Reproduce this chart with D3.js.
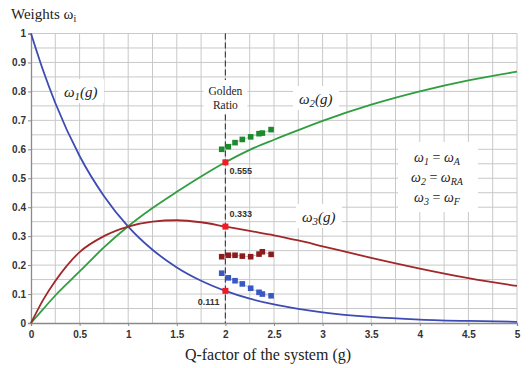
<!DOCTYPE html>
<html><head><meta charset="utf-8">
<script src="https://cdn.jsdelivr.net/npm/d3@7"></script>
<style>body{margin:0;background:#fff}svg{display:block}</style>
</head><body><svg id="c" width="529" height="368"></svg>
<script>
// ---- data ----
const gValues  = [0, 0.125, 0.25, 0.5, 0.75, 1, 1.25, 1.5, 1.75, 2, 2.25, 2.5, 2.75, 3, 3.5, 4, 4.5, 5];
const w1Values = [1, 0.872, 0.760, 0.577, 0.439, 0.333, 0.253, 0.192, 0.146, 0.111, 0.084, 0.064, 0.049, 0.037, 0.021, 0.012, 0.007, 0.004];
const w2Values = [0, 0.048, 0.095, 0.178, 0.261, 0.334, 0.397, 0.453, 0.506, 0.555, 0.598, 0.633, 0.666, 0.698, 0.754, 0.800, 0.838, 0.868];
const w3Values = [0, 0.080, 0.145, 0.245, 0.300, 0.333, 0.350, 0.355, 0.348, 0.333, 0.318, 0.303, 0.285, 0.265, 0.225, 0.188, 0.155, 0.128];
const sampleG  = [1.962, 2.03, 2.099, 2.174, 2.26, 2.346, 2.38, 2.47];
const sampleW2 = [0.600, 0.609, 0.623, 0.634, 0.643, 0.654, 0.656, 0.668];
const sampleW3 = [0.229, 0.234, 0.234, 0.231, 0.229, 0.238, 0.246, 0.237];
const sampleW1 = [0.172, 0.156, 0.146, 0.135, 0.120, 0.106, 0.100, 0.094];
const goldenG = 2;
const goldenValues = [0.555, 0.333, 0.111];
const goldenLabels = ["0.555", "0.333", "0.111"];
const xTicks = [0, 0.5, 1, 1.5, 2, 2.5, 3, 3.5, 4, 4.5, 5];
const yTicks = [0, 0.1, 0.2, 0.3, 0.4, 0.5, 0.6, 0.7, 0.8, 0.9, 1];

const svg = d3.select("#c");
const x = d3.scaleLinear().domain([0, 5]).range([31, 517]);
const y = d3.scaleLinear().domain([0, 1]).range([323, 33.5]);

const grid = svg.append("g");
// grid lines
grid.selectAll(".vx").data(d3.range(0.25, 5.01, 0.25)).join("line")
  .attr("x1", d => x(d)).attr("x2", d => x(d)).attr("y1", y(0)).attr("y2", y(1))
  .attr("stroke", "#c8c8c8").attr("stroke-width", 1);
grid.selectAll(".hy").data(d3.range(0.05, 1.001, 0.05)).join("line")
  .attr("x1", x(0)).attr("x2", x(5)).attr("y1", d => y(d)).attr("y2", d => y(d))
  .attr("stroke", "#c8c8c8").attr("stroke-width", 1);

// axes
const xAxis = d3.axisBottom(x).tickValues(xTicks).tickFormat(d3.format("")).tickSize(3);
const yAxis = d3.axisLeft(y).tickValues(yTicks).tickFormat(d3.format("")).tickSize(3);
const gx = svg.append("g").attr("transform", `translate(0,${y(0)})`).call(xAxis);
const gy = svg.append("g").attr("transform", `translate(${x(0)},0)`).call(yAxis);
[gx, gy].forEach(g => {
  g.select(".domain").attr("stroke", "#8a8a8a").attr("stroke-width", 1.3);
  g.selectAll(".tick line").attr("stroke", "#8a8a8a");
  g.selectAll("text").attr("font-family", "Liberation Sans, Arial, sans-serif")
    .attr("font-size", 10).attr("font-weight", "bold").attr("fill", "#333");
});
gx.selectAll("text").attr("dy", "0.9em");
gy.selectAll("text").attr("dx", "0.1em");

// label boxes (white, interrupting grid)
function whiteBox(x0, y0, w, h) {
  svg.append("rect").attr("x", x0).attr("y", y0).attr("width", w).attr("height", h).attr("fill", "#fff");
}
whiteBox(58, 79, 46, 24);
whiteBox(293, 86, 46, 24);
whiteBox(296, 204, 46, 24);
whiteBox(398, 142, 80, 70);

// golden ratio dashed line
svg.append("line").attr("x1", x(goldenG)).attr("x2", x(goldenG)).attr("y1", y(1)).attr("y2", y(0))
  .attr("stroke", "#444").attr("stroke-width", 1.2).attr("stroke-dasharray", "6,3");
whiteBox(x(goldenG) - 22, 80, 44, 34);
const gr = svg.append("text").attr("font-family", "Liberation Serif, Times New Roman, serif")
  .attr("font-size", 11.5).attr("fill", "#222").attr("text-anchor", "middle");
gr.append("tspan").attr("x", x(goldenG)).attr("y", 95).text("Golden");
gr.append("tspan").attr("x", x(goldenG)).attr("y", 109).text("Ratio");

// curves
const line = d3.line().x(d => x(d[0])).y(d => y(d[1])).curve(d3.curveMonotoneX);
const series = [
  {vals: w1Values, color: "#3c4cb4"},
  {vals: w2Values, color: "#2f9e3f"},
  {vals: w3Values, color: "#a0282a"}
];
series.forEach(s => {
  svg.append("path").datum(gValues.map((g, i) => [g, s.vals[i]]))
    .attr("d", line).attr("fill", "none").attr("stroke", s.color).attr("stroke-width", 1.8);
});

// sample squares
const samples = [
  {vals: sampleW2, color: "#1d8a2d"},
  {vals: sampleW3, color: "#8c1c1c"},
  {vals: sampleW1, color: "#3a58c4"}
];
const sline = d3.line().x(d => x(d[0])).y(d => y(d[1]));
samples.forEach(s => {
  const pts = sampleG.map((g, i) => [g, s.vals[i]]);
  svg.append("path").datum(pts).attr("d", sline).attr("fill", "none")
    .attr("stroke", s.color).attr("stroke-opacity", 0.35).attr("stroke-width", 1);
  svg.selectAll(null).data(pts).join("rect")
    .attr("x", d => x(d[0]) - 2.8).attr("y", d => y(d[1]) - 2.8)
    .attr("width", 5.6).attr("height", 5.6).attr("fill", s.color);
});

// golden points
svg.selectAll(null).data(goldenValues).join("rect")
  .attr("x", d => x(goldenG) - 3).attr("y", d => y(d) - 3).attr("width", 6).attr("height", 6)
  .attr("fill", "#ee1c24");
const lblPos = [[4, 12, "start"], [4, -10, "start"], [-6, 14, "end"]];
svg.selectAll(null).data(goldenValues).join("text")
  .attr("x", (d, i) => x(goldenG) + lblPos[i][0]).attr("y", (d, i) => y(d) + lblPos[i][1])
  .attr("text-anchor", (d, i) => lblPos[i][2])
  .attr("font-family", "Liberation Sans, Arial, sans-serif").attr("font-size", 9)
  .attr("font-weight", "bold").attr("fill", "#333")
  .text((d, i) => goldenLabels[i]);

// curve labels
function omegaLabel(px, py, sub, tail, size) {
  const t = svg.append("text").attr("x", px).attr("y", py)
    .attr("font-family", "Liberation Serif, Times New Roman, serif").attr("font-style", "italic")
    .attr("font-size", size).attr("fill", "#222");
  t.append("tspan").text("ω");
  t.append("tspan").attr("font-size", size * 0.72).attr("dy", 3).text(sub);
  t.append("tspan").attr("dy", -3).text(tail);
  return t;
}
omegaLabel(64, 97, "1", "(g)", 15);
omegaLabel(299, 104, "2", "(g)", 15);
omegaLabel(302, 222, "3", "(g)", 15);

// legend equations
const legend = [["1", "A", 162], ["2", "RA", 182], ["3", "F", 202]];
legend.forEach(([a, b, py]) => {
  const t = svg.append("text").attr("x", 437).attr("y", py).attr("text-anchor", "middle")
    .attr("font-family", "Liberation Serif, Times New Roman, serif").attr("font-style", "italic")
    .attr("font-size", 14).attr("fill", "#222");
  t.append("tspan").text("ω");
  t.append("tspan").attr("font-size", 10).attr("dy", 3).text(a);
  t.append("tspan").attr("dy", -3).attr("font-style", "normal").text(" = ");
  t.append("tspan").text("ω");
  t.append("tspan").attr("font-size", 10).attr("dy", 3).text(b);
});

// titles
const yt = svg.append("text").attr("x", 11).attr("y", 19)
  .attr("font-family", "Liberation Serif, Times New Roman, serif").attr("font-size", 15).attr("fill", "#222");
yt.append("tspan").text("Weights ω");
yt.append("tspan").attr("font-size", 10).attr("dy", 3).text("i");
svg.append("text").attr("x", 268).attr("y", 360).attr("text-anchor", "middle")
  .attr("font-family", "Liberation Serif, Times New Roman, serif").attr("font-size", 16).attr("fill", "#222")
  .text("Q-factor of the system (g)");
</script></body></html>
